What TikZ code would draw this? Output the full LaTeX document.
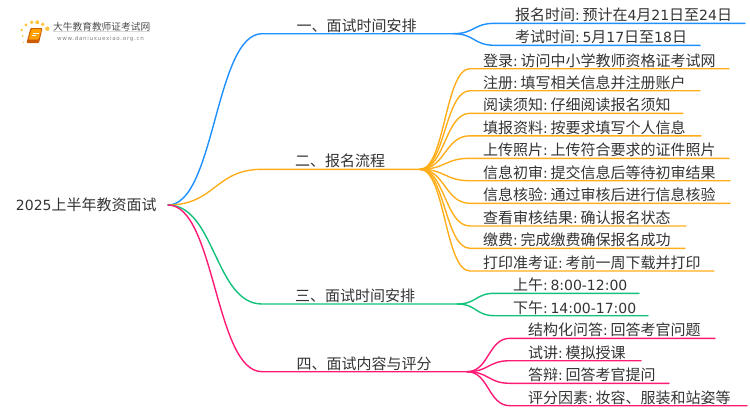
\documentclass[tikz,border=0pt]{standalone}
\usepackage{fontspec}
\newfontfamily\cjk{Noto Sans CJK SC}
\newfontfamily\latinfont{DejaVu Sans}
\newfontfamily\urlfont[LetterSpace=12]{DejaVu Sans}
\newcommand{\nm}[1]{{\latinfont\fontsize{14}{18}\selectfont #1}}
\newcommand{\cl}{\nm{:}\hspace{2.8pt}}
\definecolor{txtc}{HTML}{333333}
\definecolor{bluec}{HTML}{1E90FF}
\definecolor{orangec}{HTML}{FFAE1A}
\definecolor{greenc}{HTML}{12C27A}
\definecolor{pinkc}{HTML}{FF1A75}
\tikzset{
	root/.style={anchor=west,inner sep=0pt,outer sep=0pt,text=txtc,font=\fontsize{15}{18}\selectfont\cjk},
	topic/.style={anchor=south west,inner sep=0pt,outer sep=0pt,text=txtc,align=center,text height=10.5pt,text depth=2.5pt,font=\fontsize{15}{18}\selectfont\cjk},
	leaf/.style={topic,align=left,execute at begin node={\hspace*{#1pt}}},
	conn/.style={line width=1.4pt,line cap=round},
}
\begin{document}
\begin{tikzpicture}[x=1pt,y=-1pt]
	\useasboundingbox (0,0) rectangle (750,410);
	% logo
	\foreach \x/\y/\r in {21.7/30/1.3,26/25/1.6,31.7/22.3/1.9,37.3/22.3/2,42.7/24.3/1.9,47.3/28.7/2.2,22.7/36/1,23.3/42.3/.7}
		\fill[orange!60!yellow,opacity=.75] (\x,\y) circle (\r);
	\fill[orange!90!red!80!black,rounded corners=1pt] (26.5,43) -- (30.5,28) -- (42.5,28) -- (39,43) -- cycle;
	\fill[orange!75!yellow,rounded corners=1pt] (28.5,39.5) -- (31.5,29) -- (41.5,29) -- (38.5,39.5) -- cycle;
	\draw[white,line width=.6pt] (32.5,33) -- (38.5,33) (32,35.5) -- (36,35.5);
	\node[anchor=west,inner sep=0pt,text=black!70,font=\fontsize{9.7}{12}\selectfont\cjk] (logoname) at (53,27) {大牛教育教师证考试网};
	\node[anchor=west,inner sep=0pt,text=black!50,font=\fontsize{5.6}{7}\selectfont\urlfont] (logourl) at (57,39) {www.daniuxuexiao.org.cn};
	\draw[black!15,line width=.5pt] (logoname.south west) -- (logoname.south east);
	% root and topics
	\node[root] (root) at (16,205) {\nm{2025}上半年教资面试};
	\coordinate (rootout) at (168,205);
	\node[topic,text width=191pt] (t1) at (262,33.7) {一、面试时间安排\hspace*{2pt}};
	\node[topic,text width=158pt] (t2) at (262,169.3) {二、报名流程\hspace*{2pt}};
	\node[topic,text width=195pt] (t3) at (262,304) {三、面试时间安排\hspace*{9pt}};
	\node[topic,text width=205pt] (t4) at (262,371.7) {四、面试内容与评分\hspace*{1pt}};
	\draw[conn,bluec] (rootout) .. controls (215,205) and (215,34) .. (t1.south west) -- (t1.south east);
	\draw[conn,orangec] (rootout) .. controls (215,205) and (215,169.3) .. (t2.south west) -- (t2.south east);
	\draw[conn,greenc] (rootout) .. controls (215,205) and (215,304) .. (t3.south west) -- (t3.south east);
	\draw[conn,pinkc] (rootout) .. controls (215,205) and (215,371.7) .. (t4.south west) -- (t4.south east);
	% first topic
	\foreach \i/\ly/\w/\txt in {1/23.3/250/报名时间\cl 预计在\nm{4}月\nm{21}日至\nm{24}日,2/45.3/205/考试时间\cl\nm{5}月\nm{17}日至\nm{18}日}{
		\node[leaf=20,text width=\w pt] (a\i) at (495,\ly) {\txt};
		\draw[conn,bluec] (t1.south east) .. controls +(22,0) and +(-22,0) .. (a\i.south west) -- (a\i.south east);
	}
	% second topic
	\foreach \i/\ly/\w/\txt in {
		1/68.7/259/登录\cl 访问中小学教师资格证考试网,
		2/90.7/230/注册\cl 填写相关信息并注册账户,
		3/113.3/213/阅读须知\cl 仔细阅读报名须知,
		4/135.8/231/填报资料\cl 按要求填写个人信息,
		5/158.3/259/上传照片\cl 上传符合要求的证件照片,
		6/180.7/260/信息初审\cl 提交信息后等待初审结果,
		7/203.3/260/信息核验\cl 通过审核后进行信息核验,
		8/226/216/查看审核结果\cl 确认报名状态,
		9/248.3/215/缴费\cl 完成缴费确保报名成功,
		10/271/244/打印准考证\cl 考前一周下载并打印}{
		\node[leaf=13,text width=\w pt] (b\i) at (470,\ly) {\txt};
		\draw[conn,orangec] (t2.south east) .. controls +(25,0) and +(-25,0) .. (b\i.south west) -- (b\i.south east);
	}
	% third topic
	\foreach \i/\ly/\w/\txt in {1/293.3/144/上午\cl\nm{8:00-12:00},2/315.7/153/下午\cl\nm{14:00-17:00}}{
		\node[leaf=18,text width=\w pt] (c\i) at (495,\ly) {\txt};
		\draw[conn,greenc] (t3.south east) .. controls +(20,0) and +(-20,0) .. (c\i.south west) -- (c\i.south east);
	}
	% fourth topic
	\foreach \i/\ly/\w/\txt in {
		1/338.3/205/结构化问答\cl 回答考官问题,
		2/360.7/131/试讲\cl 模拟授课,
		3/383.3/159/答辩\cl 回答考官提问,
		4/405.7/237/评分因素\cl 妆容、服装和站姿等}{
		\node[leaf=18,text width=\w pt] (d\i) at (510,\ly) {\txt};
		\draw[conn,pinkc] (t4.south east) .. controls +(22,0) and +(-22,0) .. (d\i.south west) -- (d\i.south east);
	}
\end{tikzpicture}
\end{document}
